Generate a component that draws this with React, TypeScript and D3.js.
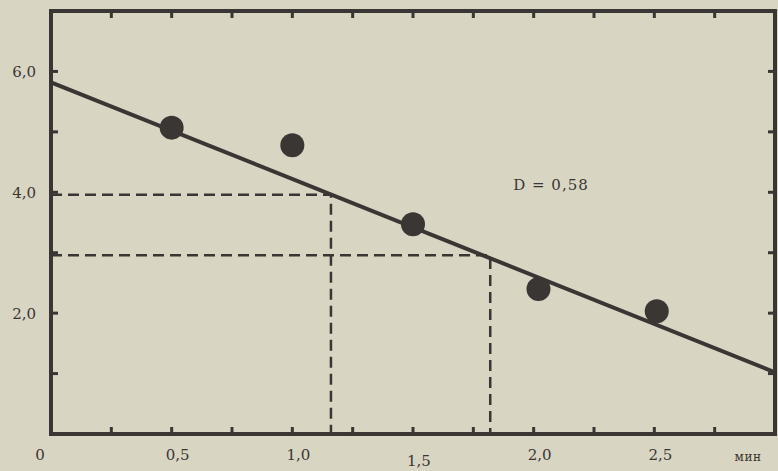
import React from "react";
import * as d3 from "d3";

// measured points (time, value)
const times = [0.5, 1.0, 1.5, 2.02, 2.51];
const values = [5.07, 4.78, 3.47, 2.4, 2.03];

// fitted straight line: value = a + b * t
const lineA = 5.82;
const lineB = -1.6;

// dashed read-off guides
const guideX = [1.16, 1.82];
const guideY = [3.96, 2.96];

const xTicks = d3.range(0.25, 3, 0.25);
const yTicks = [1, 2, 3, 4, 5, 6];
const xLabels = [
  { v: 0, t: "0" },
  { v: 0.5, t: "0,5" },
  { v: 1.0, t: "1,0" },
  { v: 1.5, t: "1,5" },
  { v: 2.0, t: "2,0" },
  { v: 2.5, t: "2,5" },
];
const yLabels = [
  { v: 2, t: "2,0" },
  { v: 4, t: "4,0" },
  { v: 6, t: "6,0" },
];

const W = 778;
const H = 471;
const ink = "#3a3634";
const paper = "#d9d5c3";
const font = "'DejaVu Serif', 'Liberation Serif', serif";

const App = () => {
  const x = d3.scaleLinear().domain([0, 3]).range([51, 775]);
  const y = d3.scaleLinear().domain([0, 7]).range([434, 11]);

  const fit = d3
    .line<number>()
    .x(t => x(t))
    .y(t => y(lineA + lineB * t));

  return (
    <div style={{ position: "absolute", left: 0, top: 0 }}>
      <svg width={W} height={H} style={{ display: "block" }}>
        <rect width={W} height={H} fill={paper} />

        {/* dashed guides */}
        {guideY.map((gy, i) => (
          <path
            key={"g" + i}
            d={`M${x(0)},${y(gy)}H${x(guideX[i])}V${y(0)}`}
            fill="none"
            stroke={ink}
            strokeWidth={2.5}
            strokeDasharray="11 6"
          />
        ))}

        {/* frame */}
        <rect
          x={x(0)}
          y={y(7)}
          width={x(3) - x(0)}
          height={y(0) - y(7)}
          fill="none"
          stroke={ink}
          strokeWidth={4}
        />

        {/* inward ticks */}
        {xTicks.map((t, i) => (
          <g key={"xt" + i} stroke={ink} strokeWidth={3}>
            <line x1={x(t)} x2={x(t)} y1={y(0)} y2={y(0) - 7} />
            <line x1={x(t)} x2={x(t)} y1={y(7)} y2={y(7) + 7} />
          </g>
        ))}
        {yTicks.map((t, i) => (
          <g key={"yt" + i} stroke={ink} strokeWidth={3}>
            <line x1={x(0)} x2={x(0) + 7} y1={y(t)} y2={y(t)} />
            <line x1={x(3)} x2={x(3) - 7} y1={y(t)} y2={y(t)} />
          </g>
        ))}

        {/* regression line */}
        <path d={fit([0, 3]) || ""} fill="none" stroke={ink} strokeWidth={4} />

        {/* points */}
        {times.map((t, i) => (
          <circle key={"p" + i} cx={x(t)} cy={y(values[i])} r={12} fill={ink} />
        ))}

        {/* labels */}
        <g fill={ink} fontFamily={font} fontSize={15}>
          {xLabels.map((l, i) => (
            <text
              key={"xl" + i}
              x={l.v === 0 ? x(0) - 11 : x(l.v) + 6}
              y={l.v === 1.5 ? 466 : 460}
              textAnchor="middle"
            >
              {l.t}
            </text>
          ))}
          <text x={748} y={461} textAnchor="middle" fontSize={12} letterSpacing={0.5}>
            мин
          </text>
          {yLabels.map((l, i) => (
            <text key={"yl" + i} x={36} y={y(l.v) + 6} textAnchor="end">
              {l.t}
            </text>
          ))}
          <text x={551} y={190} textAnchor="middle" letterSpacing={1}>
            D = 0,58
          </text>
        </g>
      </svg>
    </div>
  );
};

export default App;
